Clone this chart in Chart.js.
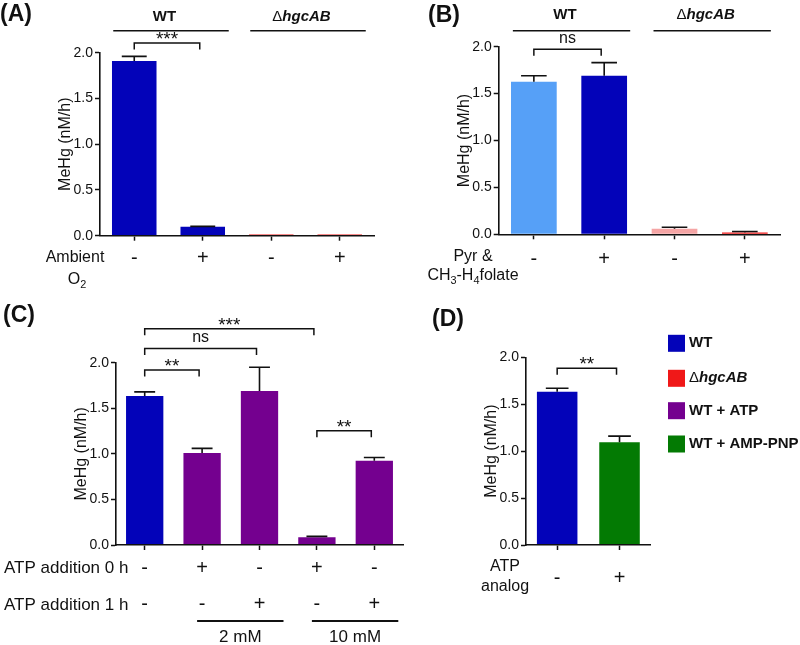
<!DOCTYPE html>
<html>
<head>
<meta charset="utf-8">
<script src="https://cdn.jsdelivr.net/npm/chart.js@4.4.0/dist/chart.umd.min.js"></script>
<style>
html, body { margin: 0; padding: 0; background: #fff; }
#wrap { position: relative; width: 800px; height: 645px; overflow: hidden; }
canvas { position: absolute; left: 0; top: 0; }
</style>
</head>
<body>
<div id="wrap">
  <canvas id="panelA" width="800" height="645"></canvas>
  <canvas id="panelB" width="800" height="645"></canvas>
  <canvas id="panelC" width="800" height="645"></canvas>
  <canvas id="panelD" width="800" height="645"></canvas>
</div>
<script>
// values (MeHg, nM/h)
const signsA = ['-', '+', '-', '+'];
const valuesA = [1.91, 0.098, 0.012, 0.012];
const errorsA = [0.05, 0.004, 0, 0];

const signsB = ['-', '+', '-', '+'];
const valuesB = [1.627, 1.69, 0.06, 0.02];
const errorsB = [0.063, 0.14, 0.015, 0.01];

const atp0h = ['-', '+', '-', '+', '-'];
const atp1h = ['-', '-', '+', '-', '+'];
const valuesC = [1.634, 1.01, 1.69, 0.084, 0.924];
const errorsC = [0.046, 0.05, 0.26, 0.011, 0.036];

const signsD = ['-', '+'];
const valuesD = [1.634, 1.095];
const errorsD = [0.036, 0.065];

const yTicks = [0, 0.5, 1.0, 1.5, 2.0];
const legendNames = ['WT', '\u0394hgcAB', 'WT + ATP', 'WT + AMP-PNP'];

const FAMILY = '"Liberation Sans", Arial, Helvetica, sans-serif';
const INK = '#111';
const BLUE = '#0303b9';
const LIGHTBLUE = '#56a0f7';
const RED = '#f01818';
const PINK = '#f5a5a5';
const PURPLE = '#74008f';
const GREEN = '#037a03';
const legendColors = [BLUE, RED, PURPLE, GREEN];

const DELTA = [{t: '\u0394', f: ''}, {t: 'hgcAB', f: 'italic bold'}];

// draws a row of text pieces (bold, italic, subscript) as one label
function drawRuns(ctx, runs, x, y, size, align, baseline) {
  ctx.textBaseline = baseline || 'middle';
  ctx.textAlign = 'left';
  const fontOf = r => (r.f ? r.f + ' ' : '') + (r.sub ? size * 0.68 : size) + 'px ' + FAMILY;
  let total = 0;
  runs.forEach(r => { ctx.font = fontOf(r); total += ctx.measureText(r.t).width; });
  let px = align === 'center' ? x - total / 2 : (align === 'right' ? x - total : x);
  runs.forEach(r => {
    ctx.font = fontOf(r);
    ctx.fillText(r.t, px, r.sub ? y + size * 0.3 : y);
    px += ctx.measureText(r.t).width;
  });
}

const annotate = {
  id: 'annotate',
  afterDatasetsDraw(chart) {
    const ctx = chart.ctx, ys = chart.scales.y;
    const ds = chart.data.datasets[0];
    ctx.save();
    ctx.strokeStyle = INK;
    ctx.lineWidth = 1.6;
    chart.getDatasetMeta(0).data.forEach((bar, i) => {
      const err = ds.errors[i];
      if (!err) return;
      const top = ys.getPixelForValue(ds.data[i] + err);
      const half = bar.width * 0.28;
      ctx.beginPath();
      ctx.moveTo(bar.x, bar.y);
      ctx.lineTo(bar.x, top);
      ctx.moveTo(bar.x - half, top);
      ctx.lineTo(bar.x + half, top);
      ctx.stroke();
    });
    ctx.restore();
  },
  afterDraw(chart, args, o) {
    const ctx = chart.ctx, xs = chart.scales.x, ys = chart.scales.y;
    const cx = i => xs.getPixelForValue(i);
    ctx.save();
    ctx.fillStyle = INK;
    ctx.strokeStyle = INK;
    ctx.lineWidth = 1.5;

    drawRuns(ctx, [{t: o.letter, f: 'bold'}], o.letterX, o.letterY, 23, 'left');

    (o.groups || []).forEach(g => {
      const a = cx(g.i) - 21, b = cx(g.j) + 26;
      ctx.beginPath();
      ctx.moveTo(a, o.groupLineY);
      ctx.lineTo(b, o.groupLineY);
      ctx.stroke();
      drawRuns(ctx, g.runs, (cx(g.i) + cx(g.j)) / 2 - 4, o.groupTextY, 15, 'center');
    });

    (o.brackets || []).forEach(b => {
      const a = cx(b.i), c = cx(b.j) - 3, y = ys.getPixelForValue(b.v);
      ctx.beginPath();
      ctx.moveTo(a, y + 6.5);
      ctx.lineTo(a, y);
      ctx.lineTo(c, y);
      ctx.lineTo(c, y + 6.5);
      ctx.stroke();
      if (b.text === 'ns') {
        drawRuns(ctx, [{t: 'ns'}], (a + c) / 2, y - 6, 16, 'center', 'alphabetic');
      } else {
        drawRuns(ctx, [{t: b.text}], (a + c) / 2, y + 2, 19, 'center', 'alphabetic');
      }
    });

    (o.rows || []).forEach(r => drawRuns(ctx, r.runs, r.x, r.y, r.size || 16, r.align || 'center'));

    (o.spans || []).forEach(s => {
      const a = cx(s.i) - 5, b = cx(s.j) + 24;
      ctx.lineWidth = 2;
      ctx.beginPath();
      ctx.moveTo(a, o.spanLineY);
      ctx.lineTo(b, o.spanLineY);
      ctx.stroke();
      drawRuns(ctx, [{t: s.text}], (a + b) / 2, o.spanTextY, 17, 'center');
    });

    if (o.legend) {
      const L = o.legend;
      legendNames.forEach((name, k) => {
        ctx.fillStyle = legendColors[k];
        ctx.fillRect(L.x, L.ys[k] - 8.5, 17, 17);
        ctx.fillStyle = INK;
        const runs = name.charAt(0) === '\u0394' ? DELTA : [{t: name, f: 'bold'}];
        drawRuns(ctx, runs, L.textX, L.ys[k], 15, 'left');
      });
    }
    ctx.restore();
  }
};

function makePanel(id, labels, values, errors, colors, geo, notes) {
  const axisH = 90, axisW = 44;
  return new Chart(document.getElementById(id), {
    type: 'bar',
    data: {
      labels: labels,
      datasets: [{
        data: values,
        errors: errors,
        backgroundColor: colors,
        borderWidth: 0,
        barPercentage: 0.65,
        categoryPercentage: 1.0
      }]
    },
    options: {
      responsive: false,
      animation: false,
      devicePixelRatio: 1,
      events: [],
      layout: {
        padding: {
          left: geo.left - axisW,
          right: 800 - geo.right,
          top: geo.top,
          bottom: 645 - geo.bottom - axisH
        }
      },
      plugins: {
        legend: { display: false },
        tooltip: { enabled: false },
        annotate: notes
      },
      scales: {
        x: {
          offset: true,
          afterFit: s => { s.height = axisH; },
          grid: { display: true, offset: false, drawOnChartArea: false, tickLength: 5, tickColor: INK, tickWidth: 1.5 },
          border: { display: true, color: INK, width: 1.6, z: 1 },
          ticks: {
            color: INK,
            padding: geo.tickPad,
            maxRotation: 0,
            autoSkip: false,
            font: { family: FAMILY, size: 20, lineHeight: geo.lineHeight || 1.2 }
          }
        },
        y: {
          min: yTicks[0],
          max: yTicks[yTicks.length - 1],
          afterFit: s => { s.width = axisW; },
          afterBuildTicks: s => { s.ticks = yTicks.map(v => ({value: v})); },
          grid: { display: true, drawOnChartArea: false, tickLength: 5, tickColor: INK, tickWidth: 1.5 },
          border: { display: true, color: INK, width: 1.6, z: 1 },
          ticks: {
            color: INK,
            padding: 2,
            font: { family: FAMILY, size: 14 },
            callback: v => Number(v).toFixed(1)
          },
          title: {
            display: true,
            text: 'MeHg (nM/h)',
            color: INK,
            padding: 0,
            font: { family: FAMILY, size: 16 }
          }
        }
      }
    },
    plugins: [annotate]
  });
}

makePanel('panelA', signsA, valuesA, errorsA, [BLUE, BLUE, RED, RED],
  {left: 100, right: 374, top: 52.7, bottom: 235.7, tickPad: 6},
  {
    letter: '(A)', letterX: 0, letterY: 15,
    groupLineY: 30.7, groupTextY: 17,
    groups: [{i: 0, j: 1, runs: [{t: 'WT', f: 'bold'}]}, {i: 2, j: 3, runs: DELTA}],
    brackets: [{i: 0, j: 1, v: 2.106, text: '***'}],
    rows: [
      {runs: [{t: 'Ambient'}], x: 75, y: 258},
      {runs: [{t: 'O'}, {t: '2', sub: true}], x: 77, y: 280}
    ]
  });

makePanel('panelB', signsB, valuesB, errorsB, [LIGHTBLUE, BLUE, PINK, RED],
  {left: 498.7, right: 780, top: 46.7, bottom: 234.3, tickPad: 8},
  {
    letter: '(B)', letterX: 428, letterY: 16,
    groupLineY: 30.7, groupTextY: 15,
    groups: [{i: 0, j: 1, runs: [{t: 'WT', f: 'bold'}]}, {i: 2, j: 3, runs: DELTA}],
    brackets: [{i: 0, j: 1, v: 1.972, text: 'ns'}],
    rows: [
      {runs: [{t: 'Pyr &'}], x: 473, y: 257},
      {runs: [{t: 'CH'}, {t: '3', sub: true}, {t: '-H'}, {t: '4', sub: true}, {t: 'folate'}], x: 473, y: 276}
    ]
  });

makePanel('panelC', atp0h.map((s, i) => [s, atp1h[i]]), valuesC, errorsC, [BLUE, PURPLE, PURPLE, PURPLE, PURPLE],
  {left: 116, right: 403, top: 362.7, bottom: 545, tickPad: 0, lineHeight: 1.8},
  {
    letter: '(C)', letterX: 3, letterY: 316,
    brackets: [
      {i: 0, j: 3, v: 2.372, text: '***'},
      {i: 0, j: 2, v: 2.157, text: 'ns'},
      {i: 0, j: 1, v: 1.919, text: '**'},
      {i: 3, j: 4, v: 1.253, text: '**'}
    ],
    rows: [
      {runs: [{t: 'ATP addition 0 h'}], x: 4, y: 568, size: 17, align: 'left'},
      {runs: [{t: 'ATP addition 1 h'}], x: 4, y: 605, size: 17, align: 'left'}
    ],
    spanLineY: 621, spanTextY: 637,
    spans: [{i: 1, j: 2, text: '2 mM'}, {i: 3, j: 4, text: '10 mM'}]
  });

makePanel('panelD', signsD, valuesD, errorsD, [BLUE, GREEN],
  {left: 526, right: 650.7, top: 357.3, bottom: 545, tickPad: 16},
  {
    letter: '(D)', letterX: 432, letterY: 320,
    brackets: [{i: 0, j: 1, v: 1.884, text: '**'}],
    rows: [
      {runs: [{t: 'ATP'}], x: 505, y: 567},
      {runs: [{t: 'analog'}], x: 505, y: 587}
    ],
    legend: {x: 668, textX: 689, ys: [343.3, 378.3, 410.7, 444]}
  });
</script>
</body>
</html>
